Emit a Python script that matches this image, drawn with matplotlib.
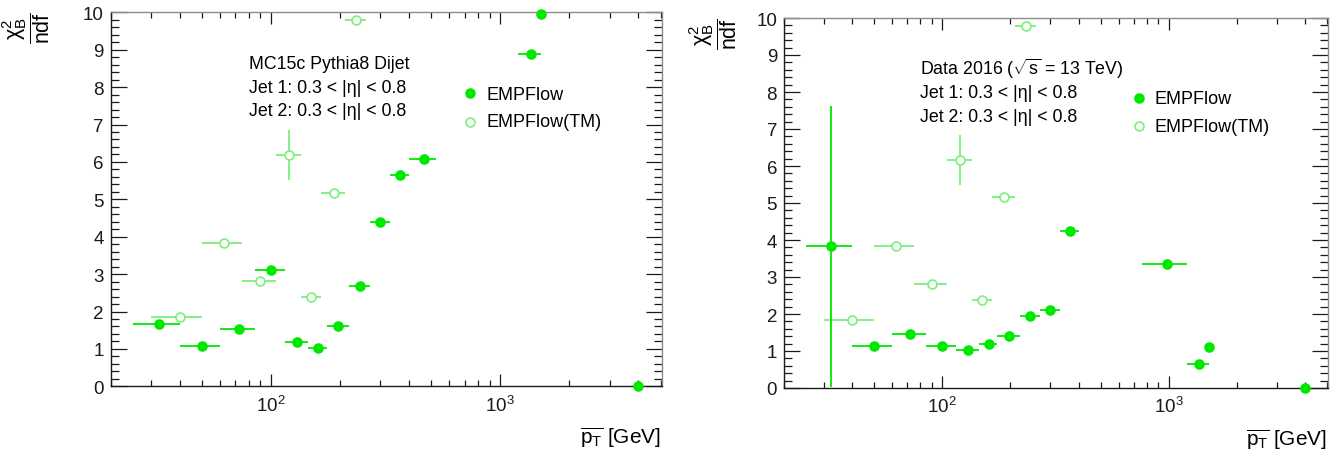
import matplotlib

matplotlib.use("Agg")
import matplotlib.pyplot as plt
from matplotlib.lines import Line2D
from matplotlib.ticker import LogLocator, MultipleLocator, NullFormatter, LogFormatterSciNotation

plt.rcParams["font.family"] = ["Liberation Sans", "DejaVu Sans"]
plt.rcParams["mathtext.fontset"] = "custom"
plt.rcParams["mathtext.rm"] = "Liberation Sans"
plt.rcParams["mathtext.it"] = "Liberation Sans:italic"
plt.rcParams["mathtext.bf"] = "Liberation Sans:bold"
plt.rcParams["mathtext.sf"] = "Liberation Sans"

W, H = 1339, 460
FILLED = "#00e800"
OPEN = "#7af07a"
FRAME_DARK = "#1a1a1a"
FRAME_LIGHT = "#8c8c8c"

# --- MC15c Pythia8 (left panel) ---
MC_PT = [32.4, 50, 72.4, 100, 130, 160, 197, 244, 300, 365, 464, 1355, 1510, 4000]
MC_LO = [25, 40, 60, 85, 115, 145, 175, 220, 270, 330, 400, 1200, 1510, 4000]
MC_HI = [40, 60, 85, 115, 145, 175, 220, 270, 330, 400, 525, 1500, 1510, 4000]
MC_CHI2 = [1.67, 1.07, 1.52, 3.10, 1.18, 1.02, 1.60, 2.69, 4.38, 5.64, 6.09, 8.88, 9.95, 0.0]
MC_ERR = [0.02, 0.02, 0.02, 0.03, 0.02, 0.02, 0.02, 0.03, 0.04, 0.05, 0.05, 0.06, 0.0, 0.0]

# --- EMPFlow(TM) points, same pT bins in both panels ---
TM_PT = [40, 62.5, 90, 120, 150, 188, 235]
TM_LO = [30, 50, 75, 105, 135, 165, 210]
TM_HI = [50, 75, 105, 135, 165, 210, 260]
MC_TM_CHI2 = [1.85, 3.84, 2.81, 6.19, 2.38, 5.17, 9.79]
MC_TM_ERR = [0.02, 0.03, 0.03, 0.67, 0.03, 0.04, 0.05]
DATA_TM_CHI2 = [1.85, 3.84, 2.81, 6.17, 2.38, 5.17, 9.78]
DATA_TM_ERR = [0.02, 0.03, 0.03, 0.67, 0.03, 0.04, 0.05]

# --- Data 2016 (right panel) ---
DATA_PT = [32.4, 50, 72, 100, 130, 160, 197, 245, 300, 365, 979, 1354, 1502, 3990]
DATA_LO = [25, 40, 60, 85, 115, 145, 175, 220, 270, 330, 760, 1200, 1502, 3990]
DATA_HI = [40, 60, 85, 115, 145, 175, 220, 270, 330, 400, 1200, 1500, 1502, 3990]
DATA_CHI2 = [3.83, 1.13, 1.47, 1.14, 1.03, 1.19, 1.40, 1.94, 2.12, 4.24, 3.34, 0.66, 1.10, 0.0]
DATA_ERR = [3.80, 0.02, 0.02, 0.02, 0.02, 0.02, 0.02, 0.03, 0.03, 0.04, 0.05, 0.04, 0.0, 0.0]

LEFT_TEXT = ["MC15c Pythia8 Dijet", "Jet 1: 0.3 < |η| < 0.8", "Jet 2: 0.3 < |η| < 0.8"]
RIGHT_TEXT = [r"Data 2016 ($\sqrt{\mathrm{s}}$ = 13 TeV)", "Jet 1: 0.3 < |η| < 0.8",
              "Jet 2: 0.3 < |η| < 0.8"]
LEGEND = ["EMPFlow", "EMPFlow(TM)"]


def fx(px):
    return px / W


def fy(py):
    return 1 - py / H


def draw_series(ax, pt, lo, hi, chi2, err, color, filled):
    xerr = [[p - l for p, l in zip(pt, lo)], [h - p for p, h in zip(pt, hi)]]
    ax.errorbar(pt, chi2, xerr=xerr, yerr=err, fmt="none", ecolor=color,
                elinewidth=1.3, capsize=0, zorder=2)
    ax.plot(pt, chi2, "o", ls="none", markersize=6.4,
            markerfacecolor=color if filled else "white",
            markeredgecolor=color, markeredgewidth=1.2, clip_on=False, zorder=3)


def style_axes(ax):
    ax.set_xscale("log")
    ax.set_xlim(20, 5060)
    ax.set_ylim(0, 10)
    ax.xaxis.set_major_locator(LogLocator(base=10, numticks=10))
    ax.xaxis.set_minor_locator(LogLocator(base=10, subs=range(2, 10), numticks=20))
    ax.xaxis.set_major_formatter(LogFormatterSciNotation())
    ax.xaxis.set_minor_formatter(NullFormatter())
    ax.yaxis.set_major_locator(MultipleLocator(1))
    ax.yaxis.set_minor_locator(MultipleLocator(0.2))
    ax.tick_params(axis="both", which="both", direction="in", top=True, right=True,
                   labelsize=13.5, colors=FRAME_DARK)
    ax.tick_params(axis="y", which="major", length=11.5, width=0.9, pad=5)
    ax.tick_params(axis="y", which="minor", length=5.8, width=0.9)
    ax.tick_params(axis="x", which="major", length=8.6, width=0.9, pad=6)
    ax.tick_params(axis="x", which="minor", length=4.3, width=0.9)
    for side in ("left", "bottom"):
        ax.spines[side].set_color(FRAME_DARK)
        ax.spines[side].set_linewidth(1.0)
    for side in ("top", "right"):
        ax.spines[side].set_color(FRAME_LIGHT)
        ax.spines[side].set_linewidth(1.0)


def annotate(fig, lines, x, baselines, leg_mx, leg_my, leg_tx, leg_ty):
    for txt, b in zip(lines, baselines):
        fig.text(fx(x), fy(b), txt, fontsize=12.8, va="baseline", ha="left", color="black")
    for i, (lab, my, ty) in enumerate(zip(LEGEND, leg_my, leg_ty)):
        filled = i == 0
        col = FILLED if filled else OPEN
        fig.add_artist(Line2D([fx(leg_mx)], [fy(my)], marker="o", ls="none", markersize=6.4,
                              markerfacecolor=col if filled else "white",
                              markeredgecolor=col, markeredgewidth=1.2))
        fig.text(fx(leg_tx), fy(ty), lab, fontsize=13, va="baseline", ha="left", color="black")


fig = plt.figure(figsize=(W / 100, H / 100), dpi=100)
fig.set_facecolor("white")

ax1 = fig.add_axes([fx(110.7), fy(387.3), fx(661.7 - 110.7), (387.3 - 13.3) / H])
ax2 = fig.add_axes([fx(784), fy(389), fx(1328.3 - 784), (389 - 19) / H])

draw_series(ax1, TM_PT, TM_LO, TM_HI, MC_TM_CHI2, MC_TM_ERR, OPEN, False)
draw_series(ax1, MC_PT, MC_LO, MC_HI, MC_CHI2, MC_ERR, FILLED, True)
draw_series(ax2, TM_PT, TM_LO, TM_HI, DATA_TM_CHI2, DATA_TM_ERR, OPEN, False)
draw_series(ax2, DATA_PT, DATA_LO, DATA_HI, DATA_CHI2, DATA_ERR, FILLED, True)

for ax in (ax1, ax2):
    style_axes(ax)

annotate(fig, LEFT_TEXT, 248.6, [68.8, 92.8, 116.3], 470, [94.3, 122.7], 487, [99.5, 127.3])
annotate(fig, RIGHT_TEXT, 920.5, [75, 98.5, 121.8], 1139, [99, 127.3], 1155, [104.3, 132.3])

ylab = r"$\dfrac{\mathrm{\chi}^{2}_{\mathrm{B}}}{\mathrm{ndf}}$"
fig.text(fx(26), fy(28), ylab, rotation=90, fontsize=15.5, ha="center", va="center")
fig.text(fx(713), fy(34), ylab, rotation=90, fontsize=15.5, ha="center", va="center")

xlab = r"$\overline{\mathrm{p}_{\mathrm{T}}}$ [GeV]"
fig.text(fx(661), fy(444), xlab, fontsize=15, ha="right", va="baseline")
fig.text(fx(1327), fy(446), xlab, fontsize=15, ha="right", va="baseline")

fig.savefig("out.png", dpi=100, facecolor="white")
